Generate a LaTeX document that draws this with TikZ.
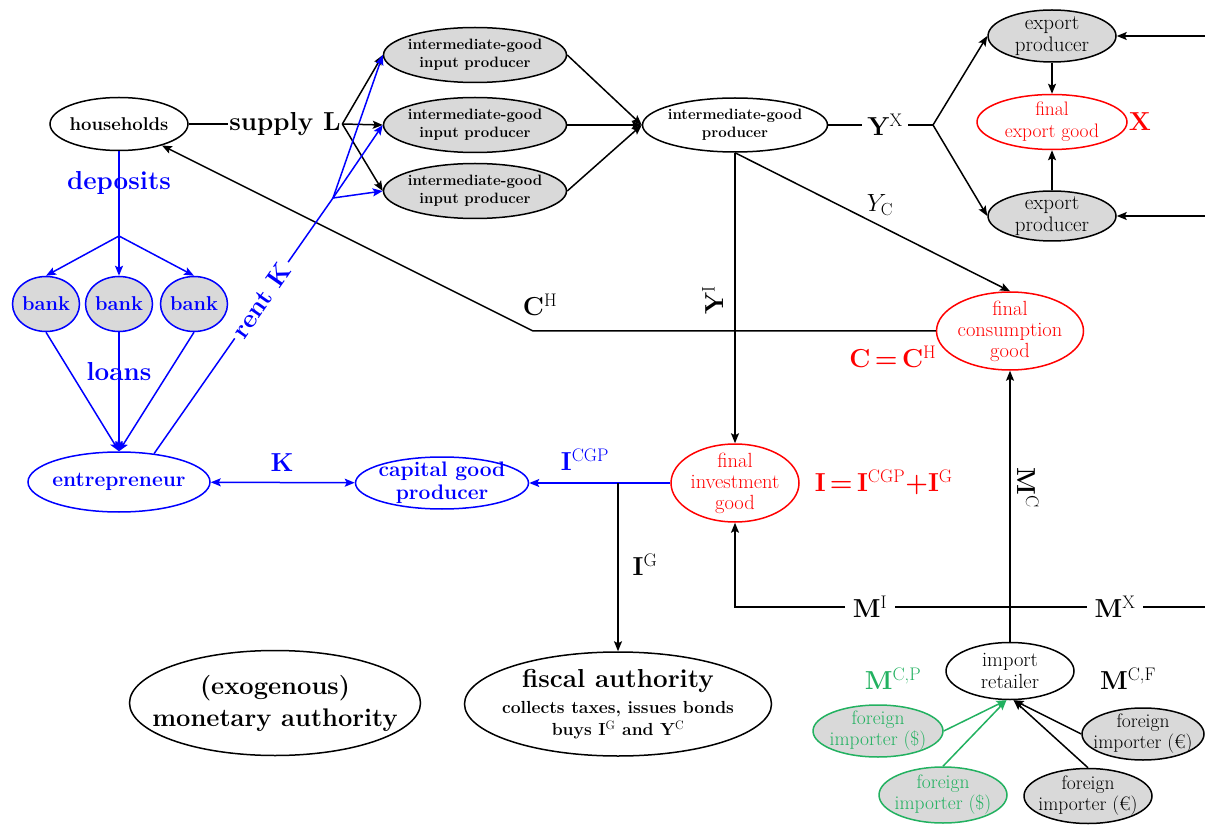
\documentclass[tikz,border=0pt]{standalone}
\usepackage{fontspec}
\usepackage{tikz}
\usetikzlibrary{shapes,arrows,positioning,calc,arrows.meta}
\definecolor{ngreen}{RGB}{34,177,96}
\definecolor{ngray}{RGB}{217,217,217}
\newcommand{\hi}[1]{\textsuperscript{\mdseries #1}}

\begin{document}
\begin{tikzpicture}[x=1pt,y=-1pt,line width=1.5pt,
  ell/.style={ellipse,draw,inner sep=-25pt,align=center},
  firm/.style={ell,fill=ngray,font=\fontsize{15}{18}\selectfont\bfseries,minimum width=183pt,minimum height=55pt},
  expo/.style={ell,fill=ngray,font=\fontsize{21}{22}\selectfont,minimum width=128pt,minimum height=52pt},
  fin/.style={ell,draw=red,text=red,font=\fontsize{20.5}{21}\selectfont},
  bank/.style={ell,draw=blue,text=blue,fill=ngray,font=\fontsize{20}{20}\selectfont\bfseries,minimum width=67pt,minimum height=55pt},
  bnode/.style={ell,draw=blue,text=blue,font=\fontsize{21}{23}\selectfont\bfseries},
  imp/.style={ell,fill=ngray,font=\fontsize{19.5}{21}\selectfont,minimum width=128pt,minimum height=54pt},
  big/.style={font=\fontsize{26}{28}\selectfont\bfseries,inner sep=1pt},
  arr/.style={-{Stealth[length=10pt,width=8pt,inset=2pt]}},
  darr/.style={{Stealth[length=10pt,width=8pt,inset=2pt]}-{Stealth[length=10pt,width=8pt,inset=2pt]}}]
\useasboundingbox (0,0) rectangle (1205,826);

% production side
\node[ell,font=\fontsize{18.5}{20}\selectfont\bfseries,minimum width=138pt,minimum height=53pt] (hh) at (119,124) {households};
\node[big] (supl) at (285,124) {supply L};
\node[firm] (ip1) at (475,55) {intermediate-good\\input producer};
\node[firm] (ip2) at (475,125) {intermediate-good\\input producer};
\node[firm] (ip3) at (475,191) {intermediate-good\\input producer};
\node[ell,font=\fontsize{15}{18}\selectfont\bfseries,minimum width=185pt,minimum height=54pt] (igp) at (735,125) {intermediate-good\\producer};
\node[big,inner xsep=5pt] (yx) at (885,125) {Y\hi{X}};
\coordinate (xb) at (933,125);
\node[expo] (ex1) at (1052,36) {export\\producer};
\node[expo,minimum height=50pt] (ex2) at (1052,216) {export\\producer};
\node[fin,minimum width=150pt,minimum height=55pt,font=\fontsize{19.5}{22}\selectfont] (fx) at (1052,122) {final\\export good};
\node[big,red] (xl) at (1140,122) {X};
\coordinate (r1) at (1205,36);
\coordinate (r2) at (1205,216);

% final goods
\node[fin,minimum width=147pt,minimum height=78pt] (fcg) at (1010,331) {final\\consumption\\good};
\node[fin,minimum width=128pt,minimum height=78pt] (fig) at (735,483) {final\\investment\\good};
\node[big,red,anchor=east] (cc) at (938,357) {C\,=\,C\hi{H}};
\node[big,red,anchor=west] (ii) at (813,482) {I\,=\,I\hi{CGP}+I\hi{G}};
\node[big] (chl) at (540,305) {C\hi{H}};
\node[big,rotate=90] (yil) at (713,300) {Y\hi{I}};
\node[font=\fontsize{25}{27}\selectfont] (ycl) at (880,205) {$Y_{\mathrm{C}}$};
\coordinate (ch) at (533,331);

% imports
\node[ell,font=\fontsize{20.5}{22}\selectfont,minimum width=128pt,minimum height=57pt] (ir) at (1010,671) {import\\retailer};
\node[imp,draw=ngreen,text=ngreen,minimum width=130pt,minimum height=52pt] (fg1) at (878,731) {foreign\\importer (\$)};
\node[imp,draw=ngreen,text=ngreen,minimum height=56pt] (fg2) at (943,795) {foreign\\importer (\$)};
\node[imp,minimum width=122pt,minimum height=52pt] (fe1) at (1143,734) {foreign\\importer (€)};
\node[imp,minimum height=55pt] (fe2) at (1088,796) {foreign\\importer (€)};
\node[big,ngreen] (mcp) at (893,679) {M\hi{C,P}};
\node[big] (mcf) at (1128,679) {M\hi{C,F}};
\node[big,inner xsep=7pt] (mil) at (870,607) {M\hi{I}};
\node[big,inner xsep=7pt] (mxl) at (1115,607) {M\hi{X}};
\node[big,rotate=-90] (mcl) at (1028,488) {M\hi{C}};
\coordinate (r3) at (1205,607);
\coordinate (mcor) at (735,607);

% finance side
\node[bank] (b1) at (46,304) {bank};
\node[bank] (b2) at (119,304) {bank};
\node[bank] (b3) at (194,304) {bank};
\node[bnode,minimum width=182pt,minimum height=60pt] (ent) at (119,482) {entrepreneur};
\node[bnode,minimum width=173pt,minimum height=52pt] (cgp) at (442,483) {capital good\\producer};
\node[big,blue] (dep) at (119,183) {deposits};
\node[big,blue] (loan) at (119,372) {loans};
\node[big,blue] (kl) at (282,463) {K};
\node[big,blue] (icgp) at (585,460) {I\hi{CGP}};
\node[big] (igl) at (645,565) {I\hi{G}};
\coordinate (db) at (119,236);
\coordinate (rk) at (333,198);
\coordinate (jg) at (618,483);

% authorities
\node[ell,font=\fontsize{17.5}{22}\selectfont\bfseries,minimum width=307pt,minimum height=104pt] (fa) at (618,704) {{\fontsize{26}{28}\selectfont fiscal authority}\\[4pt]collects taxes, issues bonds\\buys I\hi{G} and Y\hi{C}};
\node[ell,font=\fontsize{25.5}{32}\selectfont\bfseries,minimum width=291pt,minimum height=105pt] (ma) at (275,703) {(exogenous)\\monetary authority};

% connectors
\draw (hh) -- (supl);
\foreach \n in {ip1,ip2,ip3} \draw[arr] (supl.east) -- (\n.west);
\foreach \n in {ip1,ip2,ip3} \draw[arr] (\n.east) -- (igp.west);
\draw (igp) -- (yx);
\draw (yx) -- (xb);
\draw[arr] (xb) -- (ex1.west);
\draw[arr] (xb) -- (ex2.west);
\draw[arr] (ex1) -- (fx);
\draw[arr] (ex2) -- (fx);
\draw[arr] (r1) -- (ex1);
\draw[arr] (r2) -- (ex2);
\draw[arr] (igp.south) -- (fig);
\draw[arr] (igp.south) -- (fcg.north);
\draw[arr] (fcg) -- (ch) -- (hh);
\draw[arr] (ir) -- (fcg);
\draw (r3) -- (mxl);
\draw (mxl) -- (mil);
\draw[arr] (mil) -- (mcor) -- (fig);
\draw[ngreen,arr] (fg1.east) -- (ir.-97);
\draw[ngreen,arr] (fg2.north) -- (ir.-97);
\draw[arr] (fe1.west) -- (ir.-83);
\draw[arr] (fe2.north) -- (ir.-83);
\draw[blue,arr] (fig) -- (jg) -- (cgp);
\draw[arr] (jg) -- (fa);
\draw[blue,darr] (ent) -- (cgp);
\draw[blue] (hh) -- (db);
\foreach \b in {b1,b2,b3} \draw[blue,arr] (db) -- (\b.north);
\foreach \b in {b1,b2,b3} \draw[blue,arr] (\b.south) -- (ent.north);
\draw[blue] (ent.39) -- node[big,blue,sloped,fill=white,inner sep=4pt,pos=0.6] (rentk) {rent K} (rk);
\foreach \n in {ip1,ip2,ip3} \draw[blue,arr] (rk) -- (\n.west);
\end{tikzpicture}
\end{document}
